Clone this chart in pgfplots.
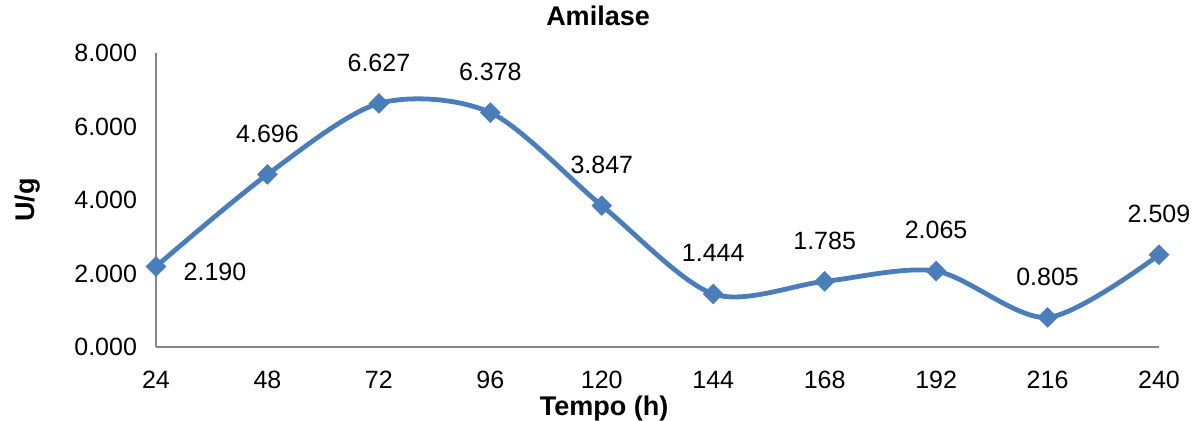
\documentclass[border=0pt]{standalone}
\usepackage{pgfplots}
\pgfplotsset{compat=1.18}
\usepackage{fontspec}
\setmainfont{Liberation Sans}
\definecolor{exblue}{RGB}{74,126,187}
\definecolor{axgray}{RGB}{134,134,134}
\begin{document}
\begin{tikzpicture}
\begin{axis}[
  scale only axis,
  width=501.5pt, height=147pt,
  xmin=0, xmax=9, ymin=0, ymax=8,
  axis lines*=left,
  axis line style={draw=axgray, line width=0.75pt, -},
  major tick length=0pt,
  xtick={0,...,9},
  xticklabels={24,48,72,96,120,144,168,192,216,240},
  ytick={0,2,4,6,8},
  /pgf/number format/assume math mode=true,
  yticklabel={\pgfmathprintnumber[fixed, fixed zerofill, precision=3]{\tick}},
  tick label style={font=\fontsize{12.5}{14}\selectfont, text=black},
  yticklabel style={anchor=east, xshift=-6pt},
  xticklabel style={anchor=center, yshift=-16.5pt},
  title={\textbf{Amilase}},
  title style={at={(axis description cs:0.4407,1.085)}, anchor=center, yshift=0pt, font=\fontsize{13.5}{15}\selectfont},
  ylabel={\textbf{U/g}},
  ylabel style={at={(axis description cs:-0.128,0.5)}, anchor=center, rotate=0, font=\fontsize{13.5}{15}\selectfont},
  xlabel={\textbf{Tempo (h)}},
  xlabel style={at={(axis description cs:0.4467,-0.21)}, anchor=center, font=\fontsize{13.5}{15}\selectfont},
  clip=false,
]
\addplot[exblue, line width=2.4pt, smooth, tension=0.5,
  mark=square*, mark size=3.4pt, mark options={rotate=45, solid, line width=0.5pt, fill=exblue}]
  coordinates {(0,2.190) (1,4.696) (2,6.627) (3,6.378) (4,3.847) (5,1.444) (6,1.785) (7,2.065) (8,0.805) (9,2.509)};
% data labels
\addplot[only marks, mark=none, point meta=explicit symbolic,
  nodes near coords, nodes near coords style={anchor=center, xshift=29.5pt, yshift=-2.5pt, font=\fontsize{12.5}{14}\selectfont, text=black}]
  coordinates {(0,2.190) [2.190]};
\addplot[only marks, mark=none, point meta=explicit symbolic,
  nodes near coords, nodes near coords style={anchor=center, yshift=20.5pt, font=\fontsize{12.5}{14}\selectfont, text=black}]
  coordinates {(1,4.696) [4.696] (2,6.627) [6.627] (3,6.378) [6.378] (4,3.847) [3.847] (5,1.444) [1.444] (6,1.785) [1.785] (7,2.065) [2.065] (8,0.805) [0.805] (9,2.509) [2.509]};
\end{axis}
\pgfresetboundingbox
\path[use as bounding box] (-78pt,-37pt) rectangle (518pt,173.5pt);
\end{tikzpicture}
\end{document}
